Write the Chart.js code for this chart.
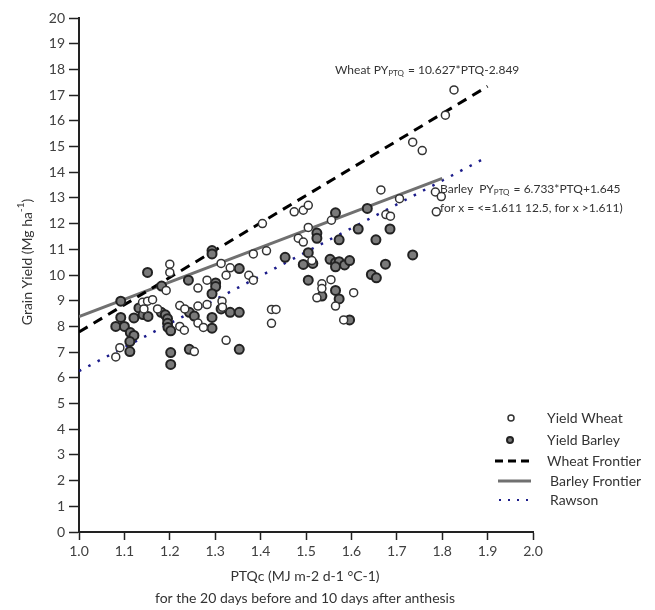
<!DOCTYPE html>
<html><head><meta charset="utf-8">
<script src="https://cdn.jsdelivr.net/npm/chart.js@4.4.0/dist/chart.umd.min.js"></script>
<style>html,body{margin:0;padding:0;background:#fff}#wrap{width:655px;height:610px;position:relative}</style>
</head><body><div id="wrap"><canvas id="c" width="655" height="610"></canvas></div>
<script>
const xTickLabels = ['1.0','1.1','1.2','1.3','1.4','1.5','1.6','1.7','1.8','1.9','2.0'];
const yTickLabels = ['0','1','2','3','4','5','6','7','8','9','10','11','12','13','14','15','16','17','18','19','20'];

const wheatX = [1.20,1.20,1.192,1.313,1.333,1.324,1.282,1.262,1.14,1.151,1.162,1.143,1.173,1.222,1.233,1.262,1.282,1.315,1.316,1.262,1.274,1.222,1.232,1.324,1.254,1.09,1.081,
  1.665,1.706,1.676,1.686,1.474,1.494,1.505,1.404,1.556,1.505,1.483,1.494,1.384,1.413,1.374,1.384,1.513,1.535,1.535,1.524,1.555,1.565,1.605,1.583,1.424,1.434,1.424,
  1.826,1.807,1.735,1.756,1.785,1.798,1.787];
const wheatY = [10.42,10.10,9.40,10.45,10.28,9.99,9.80,9.49,8.94,8.98,9.04,8.68,8.68,8.81,8.68,8.79,8.85,8.98,8.75,8.13,7.96,8.00,7.85,7.46,7.02,7.17,6.81,
  13.31,12.97,12.35,12.29,12.46,12.52,12.71,12.00,12.13,11.85,11.43,11.28,10.82,10.94,9.99,9.80,10.56,9.66,9.47,9.11,9.82,8.79,9.31,8.25,8.66,8.66,8.12,
  17.2,16.22,15.17,14.84,13.23,13.05,12.46];

const barleyX = [1.151,1.293,1.293,1.182,1.092,1.241,1.301,1.301,1.293,1.313,1.353,1.092,1.121,1.132,1.141,1.152,1.081,1.10,1.113,1.121,1.112,1.112,1.181,1.19,1.195,1.195,1.196,1.202,1.202,1.202,1.243,1.254,1.243,1.293,1.293,1.333,1.353,1.353,
  1.635,1.565,1.524,1.524,1.573,1.615,1.685,1.654,1.735,1.505,1.454,1.494,1.515,1.553,1.565,1.573,1.585,1.596,1.565,1.675,1.644,1.655,1.505,1.535,1.565,1.573,1.596];
const barleyY = [10.10,10.95,10.82,9.57,8.98,9.80,9.69,9.55,9.27,8.68,10.25,8.35,8.33,8.72,8.46,8.39,8.00,8.00,7.76,7.65,7.41,7.02,8.55,8.45,8.30,8.12,7.96,7.83,6.98,6.52,8.55,8.40,7.11,8.35,7.93,8.55,8.55,7.11,
  12.59,12.42,11.63,11.43,11.37,11.79,11.79,11.37,10.78,10.87,10.69,10.41,10.45,10.61,10.48,10.52,10.39,10.56,10.32,10.42,10.02,9.89,9.80,9.18,9.40,9.07,8.25];

const wheatFrontierX = [1.0, 1.9];
const wheatFrontierY = [7.78, 17.34];
const barleyFrontierX = [1.0, 1.8];
const barleyFrontierY = [8.38, 13.76];
const rawsonX = [1.0, 1.9];
const rawsonY = [6.26, 14.6];

const toPts = (xs, ys) => xs.map((x, i) => ({x, y: ys[i]}));
const FONT = 'Lato, "Open Sans", sans-serif';

const textPlugin = {
  id: 'texts',
  afterDraw(chart) {
    const ctx = chart.ctx;
    ctx.save();
    ctx.fillStyle = '#333';
    ctx.textBaseline = 'middle';
    // Y title
    ctx.save();
    ctx.translate(27, 262);
    ctx.rotate(-Math.PI / 2);
    ctx.font = '14px ' + FONT;
    const main = 'Grain Yield (Mg ha';
    const sup = '-1';
    const close = ')';
    ctx.font = '14px ' + FONT; const w1 = ctx.measureText(main).width;
    ctx.font = '10px ' + FONT; const w2 = ctx.measureText(sup).width;
    ctx.font = '14px ' + FONT; const w3 = ctx.measureText(close).width;
    let sx = -(w1 + w2 + w3) / 2;
    ctx.textAlign = 'left';
    ctx.fillText(main, sx, 0);
    ctx.font = '10px ' + FONT; ctx.fillText(sup, sx + w1, -6);
    ctx.font = '14px ' + FONT; ctx.fillText(close, sx + w1 + w2, 0);
    ctx.restore();

    // X title
    ctx.textAlign = 'center';
    ctx.font = '14px ' + FONT;
    ctx.fillText('PTQc (MJ m-2 d-1 °C-1)', 305, 576);
    ctx.fillText('for the 20 days before and 10 days after anthesis', 305, 598);

    // Equations
    ctx.textAlign = 'left';
    const eq = (x, y, pre, sub, post) => {
      ctx.font = '12px ' + FONT; ctx.fillText(pre, x, y);
      const a = ctx.measureText(pre).width;
      ctx.font = '8px ' + FONT; ctx.fillText(sub, x + a, y + 3);
      const b = ctx.measureText(sub).width;
      ctx.font = '12px ' + FONT; ctx.fillText(post, x + a + b + 1, y);
    };
    eq(335, 70, 'Wheat PY', 'PTQ', ' = 10.627*PTQ-2.849');
    eq(440, 189, 'Barley  PY', 'PTQ', ' = 6.733*PTQ+1.645');
    ctx.font = '12px ' + FONT;
    ctx.fillText('for x = <=1.611 12.5, for x >1.611)', 440, 208);

    // Legend
    const lx = 547;
    ctx.font = '14px ' + FONT;
    const rows = [418, 440, 461, 481, 500];
    const labels = ['Yield Wheat', 'Yield Barley', 'Wheat Frontier', 'Barley Frontier', 'Rawson'];
    labels.forEach((t, i) => ctx.fillText(t, lx + (i >= 3 ? 3 : 0), rows[i]));
    // markers
    ctx.lineWidth = 1.5; ctx.strokeStyle = '#333'; ctx.fillStyle = '#fff';
    ctx.beginPath(); ctx.arc(511, rows[0], 3, 0, Math.PI * 2); ctx.fill(); ctx.stroke();
    ctx.lineWidth = 2; ctx.strokeStyle = '#222'; ctx.fillStyle = '#7a7a7a';
    ctx.beginPath(); ctx.arc(510, rows[1], 3, 0, Math.PI * 2); ctx.fill(); ctx.stroke();
    ctx.lineWidth = 3; ctx.strokeStyle = '#000'; ctx.setLineDash([8, 5]);
    ctx.beginPath(); ctx.moveTo(495, rows[2]); ctx.lineTo(529, rows[2]); ctx.stroke();
    ctx.setLineDash([]); ctx.strokeStyle = '#707070';
    ctx.beginPath(); ctx.moveTo(498, rows[3]); ctx.lineTo(531, rows[3]); ctx.stroke();
    ctx.strokeStyle = '#1c1c8a'; ctx.lineWidth = 2; ctx.setLineDash([2, 7]);
    ctx.beginPath(); ctx.moveTo(499, rows[4]); ctx.lineTo(530, rows[4]); ctx.stroke();
    ctx.restore();
  }
};

new Chart(document.getElementById('c'), {
  type: 'scatter',
  data: {
    datasets: [
      { label: 'Yield Wheat', data: toPts(wheatX, wheatY), pointRadius: 4, pointBackgroundColor: '#fff', pointBorderColor: '#333', pointBorderWidth: 1.5, order: 0 },
      { label: 'Yield Barley', data: toPts(barleyX, barleyY), pointRadius: 4.5, pointBackgroundColor: '#7a7a7a', pointBorderColor: '#222', pointBorderWidth: 2, order: 0 },
      { label: 'Wheat Frontier', data: toPts(wheatFrontierX, wheatFrontierY), showLine: true, pointRadius: 0, borderColor: '#000', borderWidth: 3, borderDash: [10, 7], order: 2 },
      { label: 'Barley Frontier', data: toPts(barleyFrontierX, barleyFrontierY), showLine: true, pointRadius: 0, borderColor: '#707070', borderWidth: 3, order: 2 },
      { label: 'Rawson', data: toPts(rawsonX, rawsonY), showLine: true, pointRadius: 0, borderColor: '#1c1c8a', borderWidth: 2.5, borderDash: [2.5, 8], order: 2 }
    ]
  },
  options: {
    responsive: false,
    animation: false,
    devicePixelRatio: 1,
    layout: { padding: { left: 0, top: 18, right: 122, bottom: 0 } },
    plugins: { legend: { display: false }, tooltip: { enabled: false } },
    scales: {
      x: {
        type: 'linear', min: 1, max: 2,
        afterFit: s => { s.height = 78; },
        ticks: { stepSize: 0.1, autoSkip: false, maxRotation: 0, padding: 3, color: '#404040', font: { size: 14, family: FONT },
          callback: (v, i) => xTickLabels[i] },
        grid: { drawOnChartArea: false, drawTicks: true, tickLength: 8, tickColor: '#222', tickWidth: 1.5 },
        border: { color: '#222', width: 2 }
      },
      y: {
        type: 'linear', min: 0, max: 20,
        afterFit: s => { s.width = 79; },
        ticks: { stepSize: 1, autoSkip: false, padding: 4, color: '#404040', font: { size: 14, family: FONT },
          callback: (v, i) => yTickLabels[i] },
        grid: { drawOnChartArea: false, drawTicks: true, tickLength: 10, tickColor: '#222', tickWidth: 1.5 },
        border: { color: '#222', width: 2 }
      }
    }
  },
  plugins: [textPlugin]
});
</script></body></html>
